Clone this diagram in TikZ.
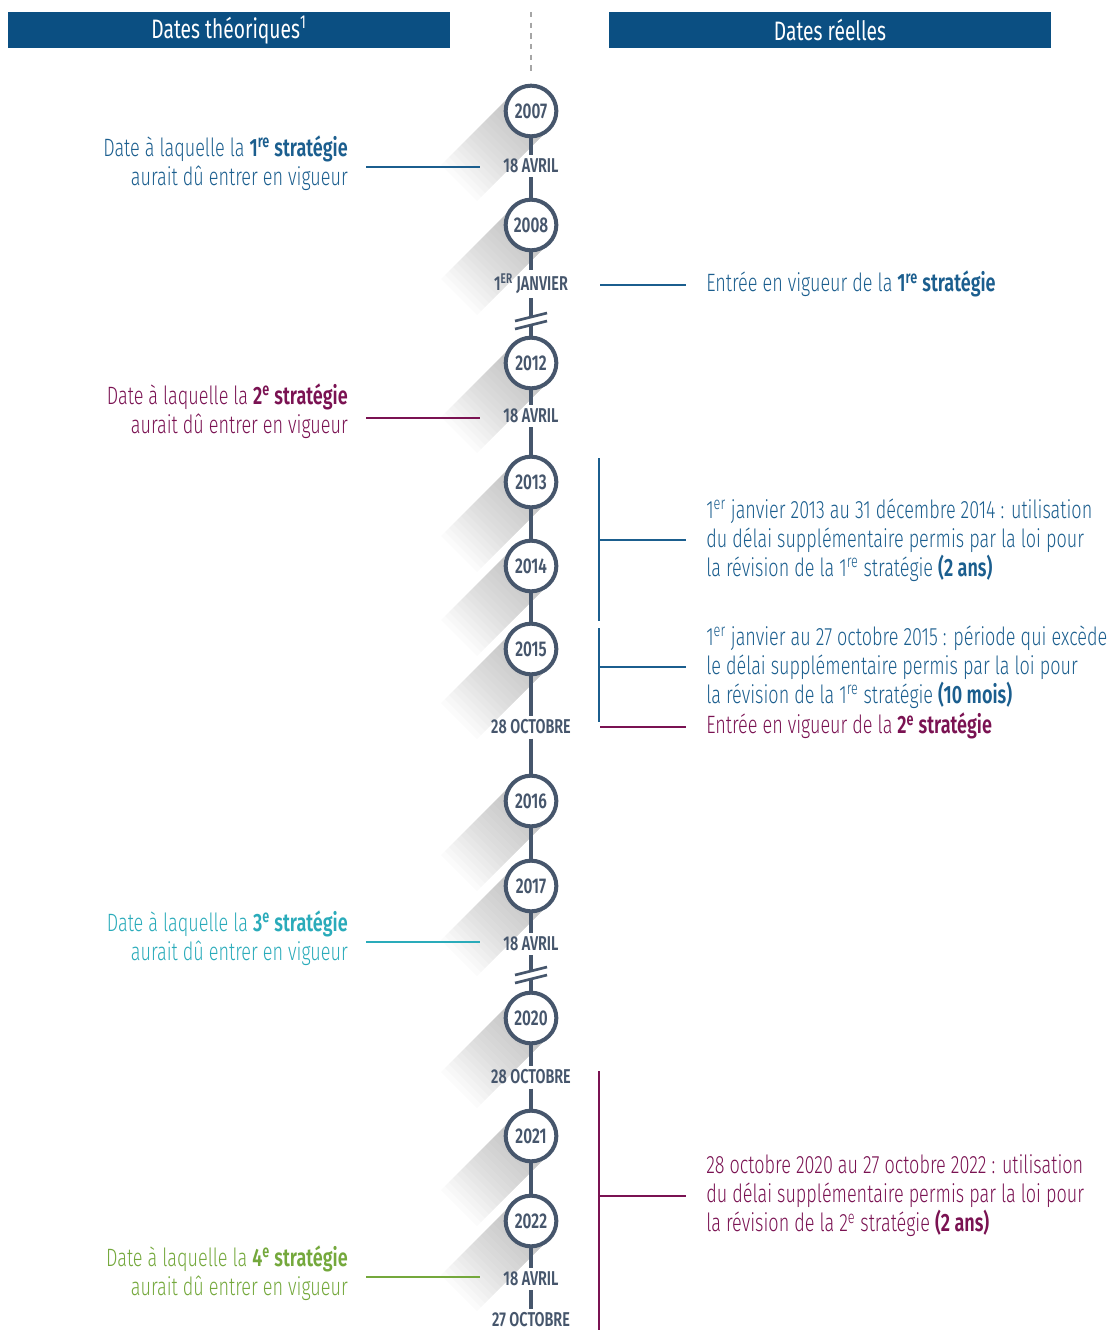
\documentclass[tikz,border=0pt]{standalone}
\usepackage{fontspec}
\setmainfont{Fira Sans}[FakeStretch=0.72,UprightFont={* Light},BoldFont={* SemiBold}]
\newfontfamily\hdrfont{Fira Sans}[FakeStretch=0.72]
\usetikzlibrary{positioning,calc,backgrounds}
\definecolor{hdrblue}{HTML}{0B4F82}
\definecolor{slate}{HTML}{46566C}
\definecolor{stratA}{HTML}{1B5E8E}
\definecolor{stratB}{HTML}{7A1252}
\definecolor{stratC}{HTML}{2AABBA}
\definecolor{stratD}{HTML}{74A83C}
\tikzset{
    hdr/.style = {fill=hdrblue, text=white, minimum width=331.5pt, minimum height=27pt, inner sep=0pt, font=\hdrfont\fontsize{20}{20}\selectfont},
    year/.style = {circle, draw=slate, line width=3pt, fill=white, minimum size=38pt, inner sep=0pt, text=slate, font=\bfseries\fontsize{16}{16}\selectfont},
    day/.style = {text=slate, inner sep=3pt, font=\bfseries\fontsize{15}{15}\selectfont},
    gap/.style = {inner sep=0pt, minimum width=1pt, minimum height=6pt},
    axis/.style = {draw=slate, line width=3pt},
    brk/.style = {draw=slate, line width=2pt},
    guide/.style = {draw=black!35, line width=1.1pt, dash pattern=on 4pt off 4pt},
    note/.style = {font=\fontsize{18.8}{21.75}\selectfont, inner sep=0pt},
    lnote/.style = {note, anchor=east, align=right},
    rnote/.style = {note, anchor=west, align=left},
    tie/.style = {line width=1.1pt},
    shadow/.style = {fill=black, opacity=0.014, draw=none}
}

\begin{document}
\begin{tikzpicture}[x=0.75pt,y=-0.75pt]
    \useasboundingbox (0,0) rectangle (1109,1330);

    % headers
    \node[hdr] (theo) at (229,30) {Dates théoriques\textsuperscript{1}};
    \node[hdr] (reel) at (830,30) {Dates réelles};

    % timeline
    \node[year] (c2007) at (531,111) {2007};
    \node[day] (d1) at (531,166) {18 AVRIL};
    \node[year] (c2008) at (531,225) {2008};
    \node[day] (d2) at (531,284) {1\textsuperscript{ER} JANVIER};
    \node[gap] (k1) at (531,321) {};
    \node[year] (c2012) at (531,363) {2012};
    \node[day] (d3) at (531,416) {18 AVRIL};
    \node[year] (c2013) at (531,482) {2013};
    \node[year] (c2014) at (531,566) {2014};
    \node[year] (c2015) at (531,649) {2015};
    \node[day] (d4) at (531,727) {28 OCTOBRE};
    \node[year] (c2016) at (531,801) {2016};
    \node[year] (c2017) at (531,886) {2017};
    \node[day] (d5) at (531,944) {18 AVRIL};
    \node[gap] (k2) at (531,975) {};
    \node[year] (c2020) at (531,1018) {2020};
    \node[day] (d6) at (531,1077) {28 OCTOBRE};
    \node[year] (c2021) at (531,1136) {2021};
    \node[year] (c2022) at (531,1221) {2022};
    \node[day] (d7) at (531,1279) {18 AVRIL};
    \node[day] (d8) at (531,1320) {27 OCTOBRE};
    \coordinate (top) at (531,12);

    \begin{scope}[on background layer]
        \foreach \yr in {2007,2008,2012,2013,2014,2015,2016,2017,2020,2021,2022}
            \foreach \i in {1,...,18}
                \fill[shadow] ($(c\yr)+(18,18)$) -- ($(c\yr)+(-18,-18)$) -- ++({-4*\i},{4*\i}) -- ($(c\yr)+({18-4*\i},{18+4*\i})$) -- cycle;
        \foreach \a/\b in {c2007/d1,d1/c2008,c2008/d2,d2/k1,k1/c2012,c2012/d3,d3/c2013,c2013/c2014,c2014/c2015,c2015/d4,d4/c2016,c2016/c2017,c2017/d5,d5/k2,k2/c2020,c2020/d6,d6/c2021,c2021/c2022,c2022/d7,d7/d8}
            \draw[axis] (\a) -- (\b);
    \end{scope}
    \draw[guide, shorten >=8pt] (top) -- (c2007);

    % breaks
    \foreach \k in {k1,k2} {
        \draw[brk] ([shift={(-16,0)}]\k.center) -- ++(32,-8);
        \draw[brk] ([shift={(-16,8)}]\k.center) -- ++(32,-8);
    }

    % theoretical dates
    \node[lnote, text=stratA] (t1) at (348,163) {Date à laquelle la \textbf{1\textsuperscript{re} stratégie}\\aurait dû entrer en vigueur};
    \node[lnote, text=stratB] (t2) at (348,411) {Date à laquelle la \textbf{2\textsuperscript{e} stratégie}\\aurait dû entrer en vigueur};
    \node[lnote, text=stratC] (t3) at (348,938) {Date à laquelle la \textbf{3\textsuperscript{e} stratégie}\\aurait dû entrer en vigueur};
    \node[lnote, text=stratD] (t4) at (348,1273) {Date à laquelle la \textbf{4\textsuperscript{e} stratégie}\\aurait dû entrer en vigueur};
    \coordinate (a1) at (366,167);  \coordinate (b1) at (480,167);
    \coordinate (a2) at (366,418);  \coordinate (b2) at (480,418);
    \coordinate (a3) at (366,942);  \coordinate (b3) at (480,942);
    \coordinate (a4) at (366,1277); \coordinate (b4) at (480,1277);
    \draw[tie, stratA] (a1) -- (b1);
    \draw[tie, stratB] (a2) -- (b2);
    \draw[tie, stratC] (a3) -- (b3);
    \draw[tie, stratD] (a4) -- (b4);

    % actual dates
    \node[rnote, text=stratA] (r1) at (706,284) {Entrée en vigueur de la \textbf{1\textsuperscript{re} stratégie}};
    \node[rnote, text=stratA] (r2) at (706,540) {1\textsuperscript{er} janvier 2013 au 31 décembre 2014 : utilisation\\du délai supplémentaire permis par la loi pour\\la révision de la 1\textsuperscript{re} stratégie \textbf{(2 ans)}};
    \node[rnote, text=stratA] (r3) at (706,667) {1\textsuperscript{er} janvier au 27 octobre 2015 : période qui excède\\le délai supplémentaire permis par la loi pour\\la révision de la 1\textsuperscript{re} stratégie \textbf{(10 mois)}};
    \node[rnote, text=stratB] (r4) at (706,726) {Entrée en vigueur de la \textbf{2\textsuperscript{e} stratégie}};
    \node[rnote, text=stratB] (r5) at (706,1196) {28 octobre 2020 au 27 octobre 2022 : utilisation\\du délai supplémentaire permis par la loi pour\\la révision de la 2\textsuperscript{e} stratégie \textbf{(2 ans)}};

    \coordinate (s1) at (600,285);
    \coordinate (s2t) at (599,458);  \coordinate (s2b) at (599,621);
    \coordinate (s3t) at (599,628);  \coordinate (s3b) at (599,722);
    \coordinate (s4) at (600,727);
    \coordinate (s5t) at (599,1071); \coordinate (s5b) at (599,1330);
    \draw[tie, stratA] (s1) -- ([xshift=-15pt]s1 -| r1.west);
    \draw[tie, stratA] (s2t) -- (s2b) (s2t |- r2.west) -- ([xshift=-15pt]r2.west);
    \draw[tie, stratA] (s3t) -- (s3b) (s3t |- r3.west) -- ([xshift=-15pt]r3.west);
    \draw[tie, stratB] (s4) -- ([xshift=-15pt]s4 -| r4.west);
    \draw[tie, stratB] (s5t) -- (s5b) (s5t |- r5.west) -- ([xshift=-15pt]r5.west);
\end{tikzpicture}
\end{document}
